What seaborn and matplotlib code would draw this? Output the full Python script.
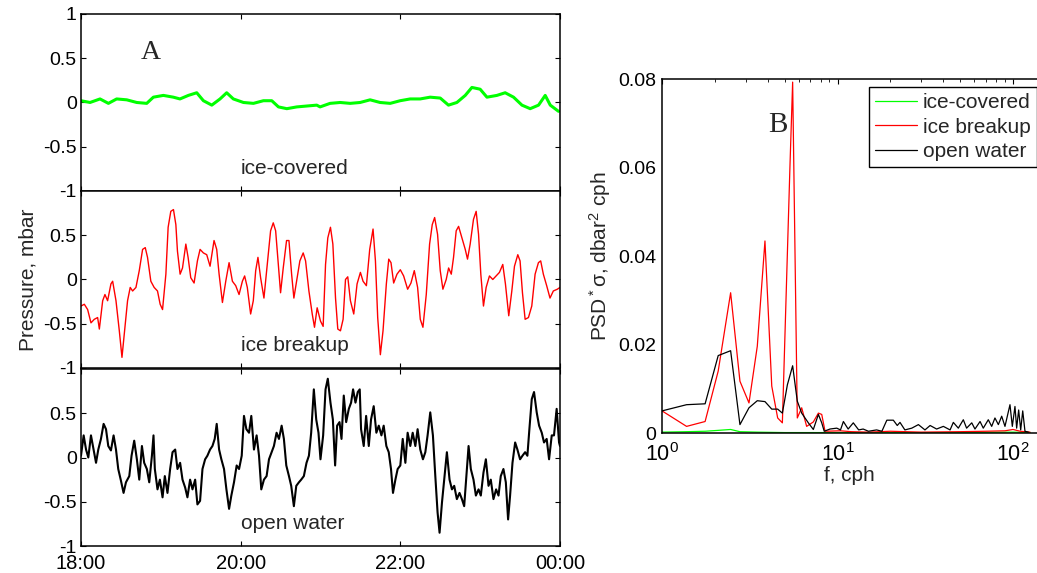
import matplotlib
matplotlib.use("Agg")
import matplotlib.pyplot as plt
import seaborn as sns
import numpy as np
import pandas as pd

# ---------------- data (panel A: time in minutes after 18:00, pressure in mbar) ----------------
green_t = [0, 6.8, 14.3, 20.6, 26.8, 34.4, 41.9, 49.4, 54.4, 61.9, 69.4, 74.4, 80.7, 87.0, 92.0,
           98.3, 104.5, 109.5, 114.5, 122.1, 129.6, 137.1, 143.4, 148.4, 154.7, 162.2, 169.7, 177.2,
           179.7, 187.2, 194.8, 202.3, 209.8, 217.3, 224.8, 232.4, 239.9, 247.4, 254.9, 262.4, 270.0,
           276.2, 282.5, 288.8, 293.8, 300.0, 305.1, 312.6, 318.8, 325.1, 331.4, 337.6, 343.9, 348.9,
           352.7, 358.9]
green_v = [0.02, 0.0, 0.04, -0.01, 0.04, 0.03, 0.0, -0.01, 0.06, 0.08, 0.06, 0.04, 0.08, 0.11, 0.02,
           -0.03, 0.04, 0.11, 0.04, 0.0, -0.01, 0.02, 0.02, -0.05, -0.07, -0.05, -0.04, -0.03,
           -0.05, -0.01, 0.0, -0.01, 0.0, 0.03, 0.0, -0.01, 0.02, 0.04, 0.04, 0.06, 0.05,
           -0.03, 0.0, 0.08, 0.17, 0.15, 0.06, 0.08, 0.11, 0.06, -0.03, -0.07, -0.03, 0.08,
           -0.03, -0.10]

red_t = [0, 2.5, 5, 7.5, 10, 12.5, 13.8, 16.3, 18, 20, 22.5, 23.8, 26.3, 28.8, 30.8, 32.5, 35, 37,
         38.8, 41.3, 43.8, 46.3, 48.3, 50, 52.5, 55, 57.5, 59.5, 61.3, 63.8, 65.5, 67.5, 69.5, 71.3,
         72.5, 74.5, 76.3, 78.8, 80.5, 82.5, 85, 87.5, 89.5, 92, 94.5, 97, 100, 102, 103.8, 106.3,
         108.8, 111.3, 113.8, 116.3, 118.8, 121.3, 123, 125, 127.5, 129.5, 131.3, 133, 135, 137.5,
         140, 142.5, 144.5, 146.3, 148.3, 150, 152, 154.5, 156.3, 158.3, 160, 162.5, 164.5, 167,
         168.8, 171.3, 173.8, 175.5, 177.5,
         180, 182, 183.8, 185.5, 187.5, 189.3, 191.3, 193, 195, 197, 198.8, 200.5, 202.5, 205,
         207.5, 210, 212, 214.5, 217, 219.5, 221.3, 223, 225, 227, 229.5, 231.3, 233, 235, 237.5,
         240, 242.5, 245.5, 248, 250.5, 253, 255, 257, 259.5, 262, 264, 265.8, 268, 270, 272,
         274.5, 276.3, 278.3, 280, 282, 283.8, 286.3, 288.8, 290.5, 292.5, 295, 297, 298.8, 300.5,
         302.5, 304.5, 307, 309.5, 312, 314.5, 317, 319, 321.5, 323.8, 325.8, 328.3, 330, 331.8,
         333.8, 336.3, 338.8, 341.3, 343.8, 345.5, 347.5, 350, 352.5, 355, 358, 360]
red_v = [-0.30, -0.28, -0.34, -0.49, -0.45, -0.43, -0.56, -0.24, -0.17, -0.24,
         -0.05, -0.02, -0.24, -0.58, -0.88, -0.62, -0.24, -0.09, -0.13, -0.09,
         0.10, 0.34, 0.36, 0.25, -0.02, -0.09, -0.13, -0.28, -0.34, 0.06,
         0.59, 0.77, 0.79, 0.62, 0.32, 0.06, 0.13, 0.40, 0.25, 0.02,
         -0.04, 0.21, 0.34, 0.30, 0.28, 0.15, 0.44, 0.34, 0.06, -0.26,
         -0.02, 0.19, -0.02, -0.07, -0.17, -0.02, 0.04, -0.09, -0.39, -0.24,
         0.10, 0.25, 0.02, -0.21, 0.17, 0.55, 0.64, 0.55, 0.17, -0.15,
         0.13, 0.44, 0.44, 0.06, -0.21, 0.02, 0.21, 0.30, 0.21, -0.13,
         -0.39, -0.54, -0.32,
         -0.47, -0.53, 0.17, 0.47, 0.59, 0.40, -0.21, -0.56, -0.58, -0.45,
         0.00, 0.03, -0.24, -0.39, -0.05, 0.08, -0.02, -0.07, 0.34, 0.57,
         0.21, -0.43, -0.85, -0.58, -0.05, 0.23, 0.19, -0.04, 0.06, 0.11,
         0.04, -0.11, -0.04, 0.10, -0.09, -0.45, -0.54, -0.17, 0.40, 0.62,
         0.70, 0.51, 0.10, -0.11, 0.00, 0.13, 0.06, 0.25, 0.55, 0.60,
         0.47, 0.34, 0.23, 0.40, 0.68, 0.77, 0.51, 0.06, -0.30, -0.09,
         0.04, 0.00, 0.04, 0.08, 0.17, -0.05, -0.41, -0.13, 0.15, 0.28,
         0.21, -0.15, -0.45, -0.43, -0.30, 0.06, 0.19, 0.21, 0.06, -0.07,
         -0.21, -0.13, -0.11, -0.09]

black_t = [0, 2, 3.8, 5.5, 7.5, 9.5, 11.3, 13, 15, 17, 18.8, 20.5, 22.5, 24.5, 26.3, 28, 30, 32,
           33.8, 36.3, 38, 40, 42, 43.8, 45.8, 47.5, 49.5, 51.3, 53.3, 54.5, 55.5, 57.5, 59.3, 61.3,
           63, 65, 67, 68.8, 70.8, 72.5, 74.5, 76.3, 78.3, 80, 82, 83.8, 85.8, 87.5, 89.5, 91.3,
           93.3, 95, 97, 98.8, 100.5, 102, 103.8, 105.5, 107.5, 109.3, 111.3, 113, 115, 117, 118.8,
           120.8, 122.5, 124.3, 126.3, 128, 130, 132, 133.8, 135.5, 137.5, 139.5, 141.3, 143.3, 145,
           147, 148.8, 150.8, 152.5, 154.3, 156.3, 158, 160, 161.8, 163.8, 165.5, 167.5, 169.5,
           171.3, 173, 175, 176.8, 178.5,
           180, 182, 183.8, 185.5, 187.5, 189.3, 191, 192.5, 194.3, 195.8, 197.5, 199.3, 201.3, 203,
           204.5, 206.3, 208, 209.5, 210.5, 212.5, 214.3, 216.3, 218, 220, 222, 223.8, 225.8, 227.5,
           229.5, 231.3, 233, 234.5, 236.3, 238, 240, 241.8, 243.8, 245.5, 247.5, 249.3, 251.3, 253,
           255, 257, 258.8, 260.5, 262.5, 264.5, 266.3, 268, 269.5, 271.3, 273, 275, 277, 278.8,
           280.5, 282.5, 284.5, 286.3, 288, 290, 291.3, 293, 295, 296.8, 298.8, 300.5, 302.5, 304.3,
           306.3, 308, 310, 312, 313.8, 315.5, 317.5, 319.3, 321, 322.5, 324.3, 326.3, 328, 330,
           331.8, 333.8, 335.5, 337, 338.8, 340.5, 342.5, 344.3, 346.3, 348, 350, 351.8, 353.8,
           355.5, 357.5, 359.3, 360]
black_v = [0.02, 0.25, 0.09, 0.00, 0.25, 0.09, -0.06, 0.09, 0.21, 0.38,
           0.32, 0.13, 0.08, 0.25, 0.09, -0.13, -0.26, -0.40, -0.28, -0.21,
           0.02, 0.19, -0.02, -0.25, 0.13, -0.06, -0.13, -0.28, 0.02, 0.25,
           -0.13, -0.36, -0.25, -0.45, -0.21, -0.40, -0.13, 0.06, 0.09, -0.13,
           -0.06, -0.25, -0.34, -0.45, -0.25, -0.36, -0.25, -0.53, -0.49, -0.13,
           -0.02, 0.02, 0.09, 0.13, 0.21, 0.38, 0.09, -0.02, -0.13, -0.36,
           -0.58, -0.43, -0.28, -0.09, -0.13, 0.02, 0.47, 0.32, 0.28, 0.47,
           0.09, 0.25, 0.02, -0.36, -0.25, -0.21, -0.02, 0.06, 0.13, 0.28,
           0.21, 0.36, 0.21, -0.09, -0.21, -0.32, -0.55, -0.32, -0.28, -0.25,
           -0.21, -0.06, 0.02, 0.28, 0.77, 0.43, 0.28,
           -0.02, 0.25, 0.77, 0.89, 0.62, 0.43, -0.09, 0.36, 0.40, 0.21,
           0.70, 0.40, 0.55, 0.62, 0.77, 0.62, 0.74, 0.77, 0.32, 0.13,
           0.47, 0.13, 0.43, 0.58, 0.28, 0.36, 0.25, 0.36, 0.13, 0.06,
           -0.13, -0.40, -0.25, -0.13, -0.09, 0.21, -0.06, 0.28, 0.13, 0.28,
           0.13, 0.32, 0.09, -0.02, 0.06, 0.25, 0.51, 0.25, -0.21, -0.62,
           -0.85, -0.51, -0.25, 0.06, -0.25, -0.36, -0.32, -0.47, -0.40, -0.47,
           -0.55, -0.13, 0.13, -0.13, -0.25, -0.43, -0.36, -0.43, -0.17, -0.02,
           -0.32, -0.25, -0.47, -0.36, -0.43, -0.21, -0.13, -0.28, -0.70, -0.43,
           -0.06, 0.17, 0.09, -0.02, 0.02, 0.06, 0.02, 0.32, 0.66, 0.74,
           0.51, 0.36, 0.28, 0.17, 0.21, -0.02, 0.25, 0.25, 0.55, 0.17,
           0.13]

time_ticks = [0, 120, 240, 360]
time_labels = ["18:00", "20:00", "22:00", "00:00"]
panel_names = ["ice-covered", "ice breakup", "open water"]

# ---------------- data (panel B: PSD*sigma vs frequency, cph) ----------------
psd_green_f = [1.0, 1.38, 1.76, 2.09, 2.46, 2.78, 3.5, 5.0, 10.0, 20.0, 50.0, 100.0, 125.0]
psd_green_v = [0.0002, 0.0003, 0.0004, 0.0006, 0.0008, 0.0003, 0.0002, 0.0001, 0.0001, 0.0001,
               0.0001, 0.0002, 0.0001]

psd_red_f = [1.0, 1.38, 1.76, 2.09, 2.46, 2.78, 3.13, 3.49, 3.86, 4.22, 4.56, 4.85, 5.36, 5.55,
             5.90, 6.25, 6.67, 7.28, 7.78, 8.13, 8.49, 10.4, 12.0, 15.0, 20.0, 30.0, 50.0, 70.0,
             90.0, 100.0, 110.0, 125.0]
psd_red_v = [0.0050, 0.0015, 0.0026, 0.0140, 0.0317, 0.0117, 0.0068, 0.0196, 0.0434, 0.0106,
             0.0034, 0.0023, 0.0605, 0.0793, 0.0034, 0.0057, 0.0015, 0.0025, 0.0045, 0.0042,
             0.0004, 0.0005, 0.0003, 0.0002, 0.0004, 0.0002, 0.0003, 0.0004, 0.0005, 0.0008,
             0.0004, 0.0002]

psd_black_f = [1.0, 1.38, 1.76, 2.09, 2.46, 2.78, 3.13, 3.49, 3.86, 4.22, 4.56, 4.85, 5.18, 5.55,
               5.90, 6.25, 6.82, 7.28, 7.78, 8.13, 8.4, 9.06, 9.9, 10.4, 10.8, 11.5, 12.3, 13.2,
               14.0, 15.0, 16.7, 17.9, 19.1, 20.8, 21.9, 22.7, 24.2, 26.5, 28.9, 31.5, 33.7, 36.7,
               40.1, 43.8, 45.7, 48.8, 52.1, 54.4, 58.2, 60.7, 64.9, 67.7, 72.3, 75.6, 78.9, 82.5,
               86.2, 90.0, 96.1, 99.1, 102.6, 104.9, 107.7, 110.6, 113.6, 117.0, 122.3]
psd_black_v = [0.0050, 0.0064, 0.0066, 0.0175, 0.0186, 0.0019, 0.0057, 0.0073, 0.0071, 0.0054,
               0.0054, 0.0045, 0.0109, 0.0152, 0.0072, 0.0045, 0.0023, 0.0008, 0.0042, 0.0023,
               0.0004, 0.0009, 0.0011, 0.0007, 0.0026, 0.0009, 0.0023, 0.0007, 0.0009, 0.0004,
               0.0007, 0.0004, 0.0029, 0.0029, 0.0017, 0.0024, 0.0007, 0.0011, 0.0019, 0.0007,
               0.0017, 0.0009, 0.0015, 0.0007, 0.0024, 0.0011, 0.0030, 0.0011, 0.0023, 0.0009,
               0.0026, 0.0011, 0.0030, 0.0015, 0.0034, 0.0019, 0.0038, 0.0015, 0.0064, 0.0015,
               0.0060, 0.0011, 0.0052, 0.0007, 0.0050, 0.0004, 0.0002]

legend_labels = ["ice-covered", "ice breakup", "open water"]
series_colors = ["#00ff00", "#ff0000", "#000000"]

# ---------------- styling ----------------
sns.set_theme(style="white")
plt.rcParams["font.family"] = ["Liberation Sans", "DejaVu Sans"]
plt.rcParams["mathtext.fontset"] = "custom"
plt.rcParams["mathtext.rm"] = "Liberation Sans"
plt.rcParams["mathtext.it"] = "Liberation Sans:italic"
plt.rcParams["axes.linewidth"] = 1.1
plt.rcParams["axes.edgecolor"] = "black"

fig = plt.figure(figsize=(10.37, 5.73), dpi=100)
fig.patch.set_facecolor("white")

L, W, H = 0.0781, 0.4619, 0.3089
bottoms = [0.6667, 0.3578, 0.0471]
axA = [fig.add_axes([L, b, W, H]) for b in bottoms]

series = [(green_t, green_v), (red_t, red_v), (black_t, black_v)]
lws = [2.2, 1.0, 1.5]
for i, ax in enumerate(axA):
    t, v = series[i]
    df = pd.DataFrame({"t": t, "v": v})
    sns.lineplot(data=df, x="t", y="v", ax=ax, color=series_colors[i], lw=lws[i],
                 estimator=None, sort=False)
    ax.set_xlim(0, 360)
    ax.set_ylim(-1, 1)
    ax.set_xticks(time_ticks)
    if i == 0:
        ax.set_yticks([-1, -0.5, 0, 0.5, 1])
        ax.set_yticklabels(["-1", "-0.5", "0", "0.5", "1"])
    else:
        ax.set_yticks([-1, -0.5, 0, 0.5])
        ax.set_yticklabels(["-1", "-0.5", "0", "0.5"])
    if i == 2:
        ax.set_xticklabels(time_labels)
    else:
        ax.set_xticklabels([])
    ax.set_xlabel("")
    ax.set_ylabel("")
    ax.tick_params(direction="in", length=3.5, width=0.8, top=True, right=True,
                   bottom=True, left=True, colors="black")
    ax.tick_params(axis="y", labelsize=14, pad=3)
    ax.tick_params(axis="x", labelsize=14.5, pad=6)
    for s in ax.spines.values():
        s.set_color("black")
    ax.text(120, -0.75, panel_names[i], ha="left", va="center", fontsize=15)
    ax.set_facecolor("white")

axA[1].set_ylabel("Pressure, mbar", fontsize=15, labelpad=4)
axA[0].text(0.145, 0.785, "A", transform=axA[0].transAxes, fontsize=20,
            family="Liberation Serif", ha="center", va="center")

# ---------------- panel B ----------------
axB = fig.add_axes([0.6384, 0.2443, 0.3616, 0.6178])
for f, v, c, lab in [(psd_green_f, psd_green_v, series_colors[0], legend_labels[0]),
                     (psd_red_f, psd_red_v, series_colors[1], legend_labels[1]),
                     (psd_black_f, psd_black_v, series_colors[2], legend_labels[2])]:
    df = pd.DataFrame({"f": f, "v": v})
    sns.lineplot(data=df, x="f", y="v", ax=axB, color=c, lw=0.9, label=lab,
                 estimator=None, sort=False)
axB.set_xscale("log")
axB.set_xlim(1, 137)
axB.set_ylim(0, 0.08)
axB.set_yticks([0, 0.02, 0.04, 0.06, 0.08])
axB.set_yticklabels(["0", "0.02", "0.04", "0.06", "0.08"])
axB.tick_params(which="both", direction="in", top=True, right=False, colors="black")
axB.tick_params(which="major", length=3.5, width=0.8)
axB.tick_params(which="minor", length=2, width=0.6)
axB.tick_params(axis="y", labelsize=14, pad=4)
axB.tick_params(axis="x", labelsize=15.5, pad=7)
axB.spines["right"].set_visible(False)
for s in axB.spines.values():
    s.set_color("black")
axB.set_xlabel("f, cph", fontsize=15, labelpad=0)
axB.set_ylabel(r"PSD$^*$σ, dbar$^2$ cph", fontsize=15, labelpad=4)
axB.text(0.31, 0.87, "B", transform=axB.transAxes, fontsize=21,
         family="Liberation Serif", ha="center", va="center")
leg = axB.legend(loc="upper right", bbox_to_anchor=(1.0, 0.977), fontsize=15,
                 frameon=True, fancybox=False, edgecolor="black", framealpha=1,
                 borderpad=0.3, labelspacing=0.25, handlelength=2.0, handletextpad=0.3,
                 borderaxespad=0.0)
leg.get_frame().set_linewidth(1.0)

fig.savefig("out.png", dpi=100, facecolor="white")
